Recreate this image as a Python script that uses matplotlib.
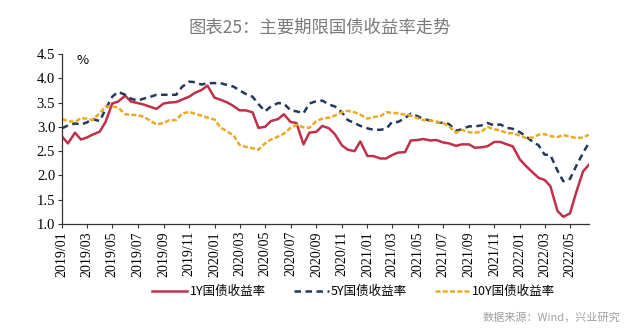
import numpy as np
import pandas as pd
import matplotlib
matplotlib.use("Agg")
import matplotlib.pyplot as plt
import matplotlib.dates as mdates

# semi-monthly observation dates (1st and 15th)
dates = pd.date_range("2019-01-01", "2022-06-15", freq="SMS")

yield_1y = [2.80, 2.66, 2.88, 2.74, 2.78, 2.84, 2.90, 3.10, 3.48, 3.52,
            3.64, 3.52, 3.49, 3.46, 3.41, 3.37, 3.48, 3.50, 3.51, 3.56,
            3.62, 3.70, 3.76, 3.85, 3.60, 3.56, 3.50, 3.43, 3.34, 3.34,
            3.30, 2.98, 3.00, 3.12, 3.16, 3.26, 3.10, 3.08, 2.64, 2.88,
            2.90, 3.02, 2.97, 2.85, 2.62, 2.53, 2.50, 2.70, 2.40, 2.40,
            2.35, 2.35, 2.42, 2.47, 2.48, 2.72, 2.73, 2.75, 2.72, 2.73,
            2.68, 2.66, 2.61, 2.64, 2.64, 2.57, 2.58, 2.60, 2.69, 2.69,
            2.64, 2.60, 2.33, 2.20, 2.06, 1.95, 1.91, 1.78, 1.27, 1.15,
            1.22, 1.63, 2.08, 2.22]

yield_5y = [2.97, 3.03, 3.07, 3.05, 3.09, 3.16, 3.12, 3.36, 3.62, 3.72,
            3.66, 3.58, 3.54, 3.58, 3.62, 3.66, 3.66, 3.66, 3.66, 3.82,
            3.93, 3.92, 3.87, 3.90, 3.90, 3.90, 3.86, 3.83, 3.75, 3.68,
            3.62, 3.47, 3.32, 3.42, 3.49, 3.48, 3.34, 3.32, 3.28, 3.48,
            3.53, 3.54, 3.46, 3.42, 3.30, 3.14, 3.08, 3.02, 2.97, 2.94,
            2.94, 2.96, 3.10, 3.10, 3.18, 3.27, 3.22, 3.16, 3.13, 3.10,
            3.08, 3.06, 2.92, 2.95, 3.01, 3.01, 3.03, 3.08, 3.03, 3.05,
            2.98, 2.96, 2.89, 2.81, 2.69, 2.62, 2.43, 2.42, 2.10, 1.88,
            1.93, 2.18, 2.46, 2.67]

yield_10y = [3.16, 3.12, 3.10, 3.18, 3.17, 3.14, 3.28, 3.42, 3.42, 3.40,
             3.26, 3.25, 3.24, 3.21, 3.12, 3.05, 3.08, 3.14, 3.14, 3.27,
             3.31, 3.27, 3.23, 3.19, 3.15, 2.99, 2.90, 2.83, 2.63, 2.59,
             2.56, 2.53, 2.66, 2.74, 2.80, 2.86, 2.98, 3.04, 2.99, 2.98,
             3.12, 3.17, 3.19, 3.23, 3.30, 3.33, 3.30, 3.25, 3.17, 3.20,
             3.22, 3.30, 3.29, 3.28, 3.25, 3.23, 3.18, 3.14, 3.13, 3.11,
             3.08, 3.01, 2.88, 2.94, 2.89, 2.88, 2.90, 3.00, 2.95, 2.93,
             2.87, 2.87, 2.82, 2.77, 2.78, 2.84, 2.85, 2.81, 2.79, 2.83,
             2.80, 2.77, 2.78, 2.84]

series_names = ["1Y国债收益率", "5Y国债收益率", "10Y国债收益率"]
title_text = "图表25：主要期限国债收益率走势"
source_text = "数据来源：Wind，兴业研究"

cjk = ["Noto Sans CJK SC", "DejaVu Sans"]
serif = "Liberation Serif"

fig = plt.figure(figsize=(6.4, 3.31), dpi=100)
ax = fig.add_axes([0.097, 0.323, 0.823, 0.514])

ax.plot(dates, yield_1y, color="#C0304A", lw=1.8, label=series_names[0])
ax.plot(dates, yield_5y, color="#22395C", lw=1.8, dashes=(2.6, 1.8),
        label=series_names[1])
ax.plot(dates, yield_10y, color="#EBAA26", lw=1.8, dashes=(2.0, 0.9),
        label=series_names[2])

ax.set_ylim(1.0, 4.5)
ax.set_yticks(np.arange(1.0, 4.51, 0.5))
ax.yaxis.set_major_formatter(matplotlib.ticker.FormatStrFormatter("%.1f"))
ax.set_xlim(dates[0], dates[-1])
ax.set_xticks(pd.date_range("2019-01-01", "2022-05-01", freq="2MS"))
ax.xaxis.set_major_formatter(mdates.DateFormatter("%Y/%m"))

for side in ["top", "right"]:
    ax.spines[side].set_visible(False)
for side in ["left", "bottom"]:
    ax.spines[side].set_color("#333333")
    ax.spines[side].set_linewidth(0.9)

ax.tick_params(axis="both", direction="out", length=3, width=0.8,
               color="#333333", pad=2)
for lbl in ax.get_yticklabels():
    lbl.set_fontfamily(serif)
    lbl.set_fontsize(10.5)
for lbl in ax.get_xticklabels():
    lbl.set_fontfamily(serif)
    lbl.set_fontsize(10)
    lbl.set_rotation(90)

ax.text(0.027, 1.0, "%", transform=ax.transAxes, fontsize=9.5,
        family=cjk, va="top", ha="left")

fig.text(0.5, 0.918, title_text, ha="center", va="center", fontsize=12.5,
         color="#7a7a7a", family=cjk)

fig.legend(loc="center", bbox_to_anchor=(0.553, 0.118), ncol=3,
           frameon=False, prop={"family": cjk, "size": 9},
           handlelength=2.8, columnspacing=2.2, handletextpad=0.2)

fig.text(0.97, 0.04, source_text, ha="right", va="center", fontsize=8,
         color="#a0a0a0", family=cjk)

fig.savefig("out.png", dpi=100)
